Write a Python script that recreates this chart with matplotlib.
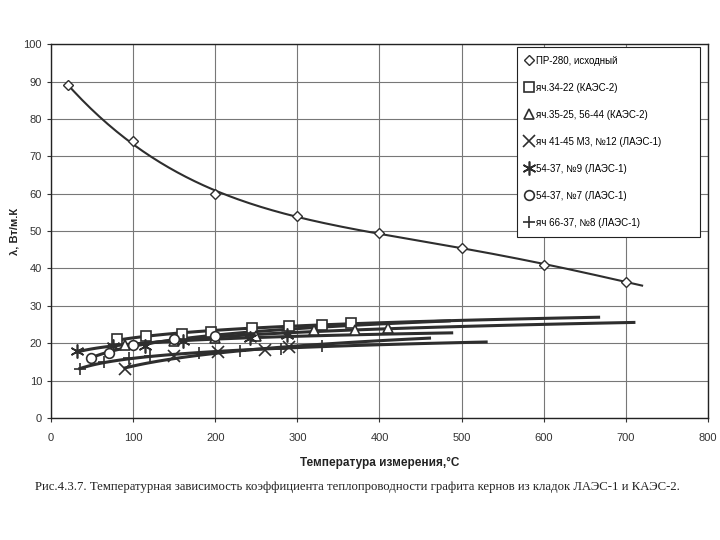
import numpy as np
import matplotlib.pyplot as plt

plt.rcParams['font.family'] = ['Liberation Sans', 'DejaVu Sans']

# ПР-280, исходный
T_pr = [20, 100, 200, 300, 400, 500, 600, 700]
lam_pr = [89, 74, 60, 54, 49.5, 45.5, 41, 36.5]
end_pr = 720

# lower series: temperature, conductivity, trendline end
T_sq = [80, 115, 160, 195, 245, 290, 330, 365]
lam_sq = [21, 22, 22.5, 23, 24, 24.5, 25, 25.5]
T_tri = [90, 150, 200, 250, 320, 370, 410]
lam_tri = [19.5, 20.5, 21.5, 22, 23.5, 23.5, 24]
T_x = [90, 150, 203, 260, 290]
lam_x = [13, 16.5, 17.6, 18.2, 19]
T_ast = [32, 75, 114, 161, 242, 287]
lam_ast = [18, 19.3, 19.3, 20.5, 21.5, 22.3]
T_circ = [48, 70, 100, 150, 200]
lam_circ = [16, 17.5, 19.5, 21, 22]
T_plus = [35, 65, 95, 120, 180, 230, 280, 330]
lam_plus = [13, 15, 16, 16.5, 17.5, 18, 18.5, 19.2]

labels = ['ПР-280, исходный', 'яч.34-22 (КАЭС-2)', 'яч.35-25, 56-44 (КАЭС-2)',
          'яч 41-45 М3, №12 (ЛАЭС-1)', '54-37, №9 (ЛАЭС-1)', '54-37, №7 (ЛАЭС-1)',
          'яч 66-37, №8 (ЛАЭС-1)']
trend_end = [667, 710, 461, 488, 485, 530]

fig = plt.figure(figsize=(7.2, 5.4), dpi=100)
ax = fig.add_axes([0.071, 0.226, 0.912, 0.692])

lc = '#2e2e2e'

# main curve: polynomial trend (4th order)
c = np.polyfit(T_pr, lam_pr, 4)
tt = np.linspace(T_pr[0], end_pr, 200)
ax.plot(tt, np.polyval(c, tt), color=lc, lw=1.5, zorder=3)
ax.plot(T_pr, lam_pr, ls='none', marker='D', ms=5.5, mfc='white', mec=lc, mew=1.0,
        label=labels[0], zorder=4)

series = [(T_sq, lam_sq, 's', 7), (T_tri, lam_tri, '^', 7), (T_x, lam_x, 'x', 8),
          (T_ast, lam_ast, (6, 2, 0), 10), (T_circ, lam_circ, 'o', 7), (T_plus, lam_plus, '+', 9)]
for i, (T, lam, m, ms) in enumerate(series):
    # logarithmic trendline
    k = np.polyfit(np.log(T), lam, 1)
    tt = np.linspace(min(T), trend_end[i], 100)
    ax.plot(tt, np.polyval(k, np.log(tt)), color=lc, lw=2.2, zorder=3)
    ax.plot(T, lam, ls='none', marker=m, ms=ms, mfc='white', mec=lc, mew=1.2,
            label=labels[i + 1], zorder=4)

ax.set_xlim(0, 800)
ax.set_ylim(0, 100)
ax.set_xticks(range(0, 801, 100))
ax.set_yticks(range(0, 101, 10))
ax.grid(True, color='#777777', lw=0.8)
ax.set_axisbelow(True)
for s in ax.spines.values():
    s.set_color('#222222')
    s.set_linewidth(1.0)
ax.tick_params(labelsize=8, colors='#333333', length=3)
ax.tick_params(axis='x', pad=8)

ax.set_xlabel('Температура измерения,°C', fontsize=8.5, fontweight='bold', color='#222222', labelpad=10)
ax.set_ylabel('λ, Вт/м.К', fontsize=8, fontweight='bold', color='#222222', labelpad=3)

leg = ax.legend(loc='upper left', bbox_to_anchor=(0.718, 0.589, 0.254, 0.324),
                bbox_transform=fig.transFigure, mode='expand', fontsize=7,
                labelspacing=1.75, handlelength=0.6, handletextpad=0.45,
                borderpad=0.9, borderaxespad=0, fancybox=False, framealpha=1)
leg.get_frame().set_edgecolor('#222222')
leg.get_frame().set_linewidth(0.8)

fig.text(0.048, 0.092, 'Рис.4.3.7. Температурная зависимость коэффициента теплопроводности '
         'графита кернов из кладок ЛАЭС-1 и КАЭС-2.', family='Liberation Serif',
         fontsize=9.2, color='#222222')

fig.savefig('out.png', dpi=100)
